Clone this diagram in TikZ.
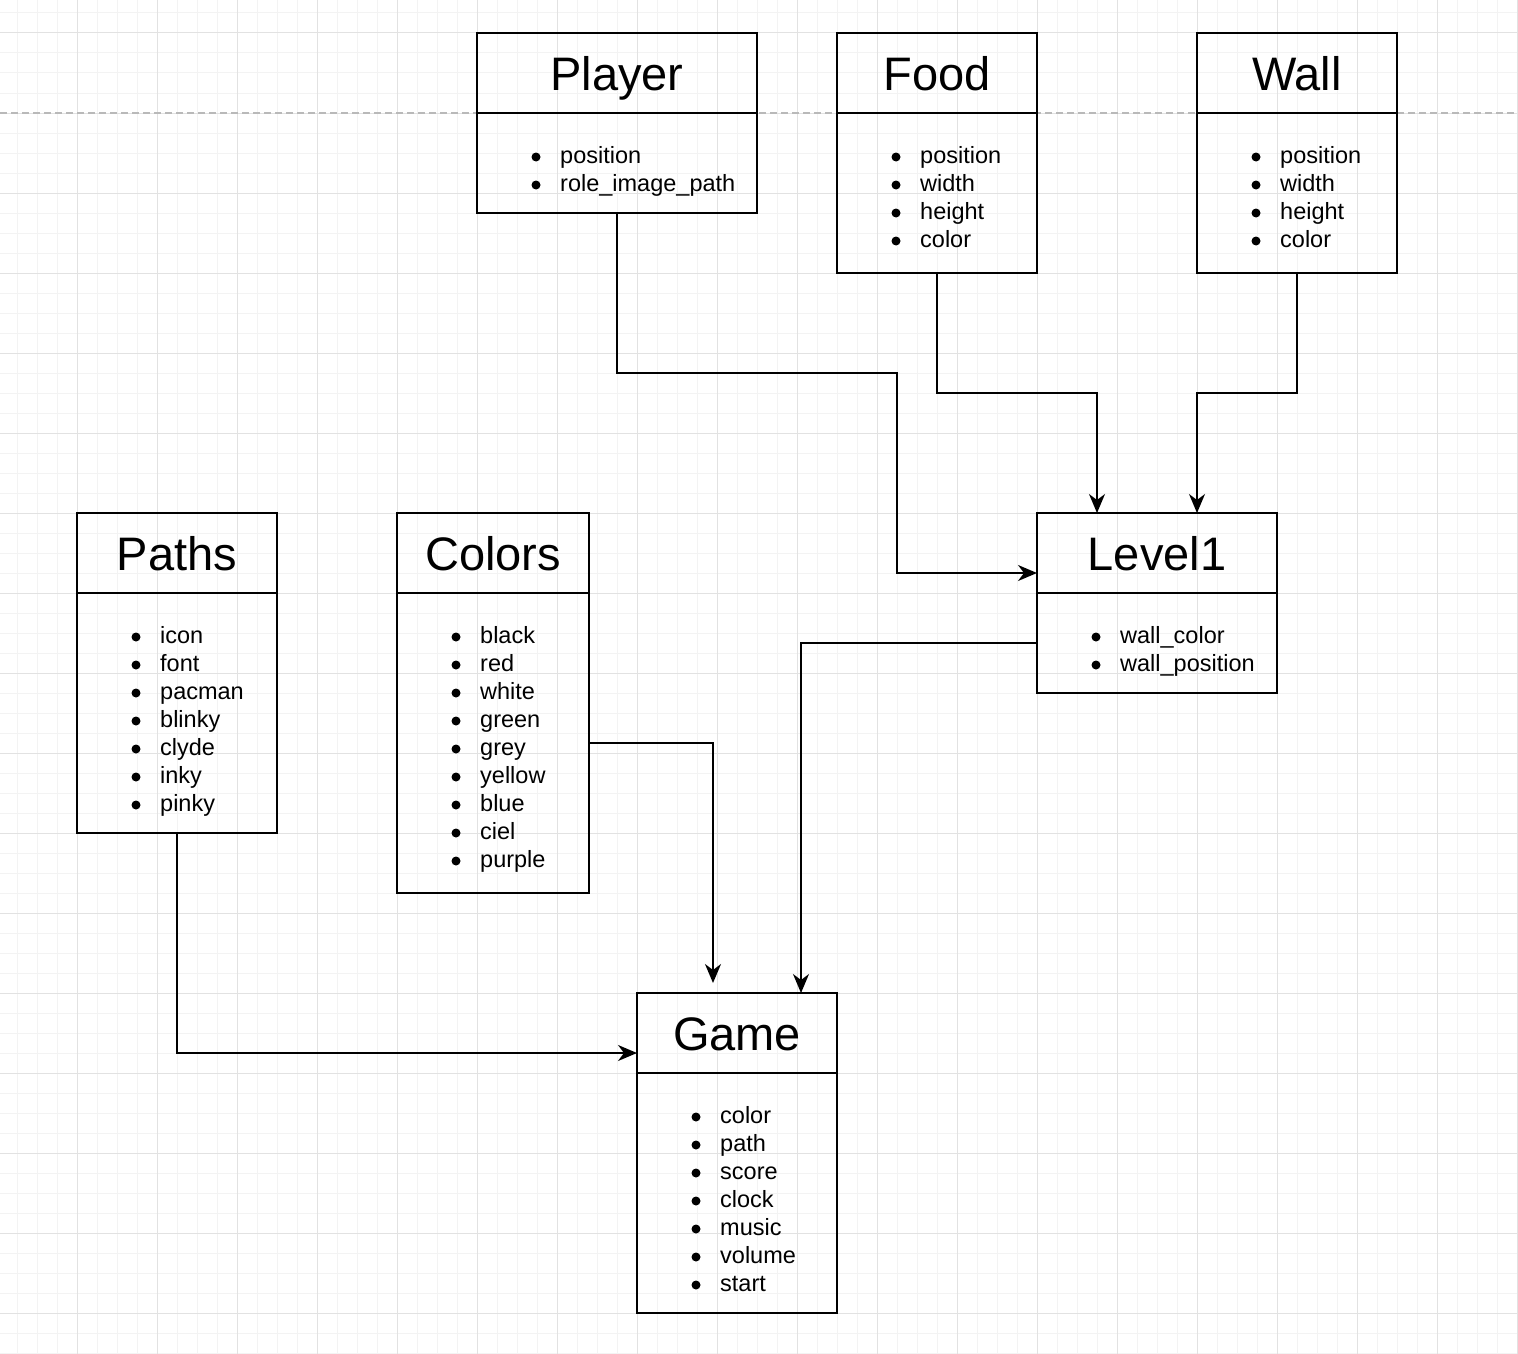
\documentclass[tikz,border=0pt]{standalone}
\usepackage{fontspec}
\setmainfont{Liberation Sans}
\usetikzlibrary{arrows.meta,positioning,calc}

\definecolor{gridminor}{RGB}{243,243,243}
\definecolor{gridmajor}{RGB}{226,226,226}
\definecolor{guide}{RGB}{185,185,185}

\tikzset{
	classhead/.style={draw, line width=2pt, outer sep=0pt, inner sep=0pt,
		minimum height=80pt, text height=34pt, text depth=0pt,
		font=\fontsize{47}{56}\selectfont},
	classbody/.style={draw, line width=2pt, outer sep=0pt, inner sep=0pt},
	member/.style={anchor=base west, inner sep=0pt, font=\fontsize{23.5}{28}\selectfont},
	link/.style={line width=1.8pt, -{Stealth[length=19pt,width=16pt,inset=6pt]}},
}

\begin{document}
\begin{tikzpicture}[x=1pt,y=-1pt]
		\useasboundingbox (0,0) rectangle (1518,1354);
		
		% background grid
		\foreach \x in {17,37,...,1517} \draw[gridminor,line width=1pt] (\x,0) -- (\x,1354);
		\foreach \y in {13,33,...,1353} \draw[gridminor,line width=1pt] (0,\y) -- (1518,\y);
		\foreach \x in {77,157,...,1517} \draw[gridmajor,line width=1pt] (\x,0) -- (\x,1354);
		\foreach \y in {33,113,...,1313} \draw[gridmajor,line width=1pt] (0,\y) -- (1518,\y);
		\draw[guide,line width=1.2pt,dash pattern=on 7pt off 4pt] (0,113) -- (1518,113);
		
		% classes
		\node[classhead,minimum width=280pt] (player) at (617,73) {Player};
		\node[classbody,minimum width=280pt,minimum height=100pt,below=0pt of player] (player-body) {};
		\foreach \t [count=\i] in {position,role\_image\_path} {
			\fill ($(player-body.north west)+(59,{44+28*(\i-1)})$) circle (4.5pt);
			\node[member] (player-\i) at ($(player-body.north west)+(83,{50+28*(\i-1)})$) {\t};
		}
		
		\node[classhead,minimum width=200pt] (food) at (937,73) {Food};
		\node[classbody,minimum width=200pt,minimum height=160pt,below=0pt of food] (food-body) {};
		\foreach \t [count=\i] in {position,width,height,color} {
			\fill ($(food-body.north west)+(59,{44+28*(\i-1)})$) circle (4.5pt);
			\node[member] (food-\i) at ($(food-body.north west)+(83,{50+28*(\i-1)})$) {\t};
		}
		
		\node[classhead,minimum width=200pt] (wall) at (1297,73) {Wall};
		\node[classbody,minimum width=200pt,minimum height=160pt,below=0pt of wall] (wall-body) {};
		\foreach \t [count=\i] in {position,width,height,color} {
			\fill ($(wall-body.north west)+(59,{44+28*(\i-1)})$) circle (4.5pt);
			\node[member] (wall-\i) at ($(wall-body.north west)+(83,{50+28*(\i-1)})$) {\t};
		}
		
		\node[classhead,minimum width=200pt] (paths) at (177,553) {Paths};
		\node[classbody,minimum width=200pt,minimum height=240pt,below=0pt of paths] (paths-body) {};
		\foreach \t [count=\i] in {icon,font,pacman,blinky,clyde,inky,pinky} {
			\fill ($(paths-body.north west)+(59,{44+28*(\i-1)})$) circle (4.5pt);
			\node[member] (paths-\i) at ($(paths-body.north west)+(83,{50+28*(\i-1)})$) {\t};
		}
		
		\node[classhead,minimum width=192pt] (colors) at (493,553) {Colors};
		\node[classbody,minimum width=192pt,minimum height=300pt,below=0pt of colors] (colors-body) {};
		\foreach \t [count=\i] in {black,red,white,green,grey,yellow,blue,ciel,purple} {
			\fill ($(colors-body.north west)+(59,{44+28*(\i-1)})$) circle (4.5pt);
			\node[member] (colors-\i) at ($(colors-body.north west)+(83,{50+28*(\i-1)})$) {\t};
		}
		
		\node[classhead,minimum width=240pt] (level1) at (1157,553) {Level1};
		\node[classbody,minimum width=240pt,minimum height=100pt,below=0pt of level1] (level1-body) {};
		\foreach \t [count=\i] in {wall\_color,wall\_position} {
			\fill ($(level1-body.north west)+(59,{44+28*(\i-1)})$) circle (4.5pt);
			\node[member] (level1-\i) at ($(level1-body.north west)+(83,{50+28*(\i-1)})$) {\t};
		}
		
		\node[classhead,minimum width=200pt] (game) at (737,1033) {Game};
		\node[classbody,minimum width=200pt,minimum height=240pt,below=0pt of game] (game-body) {};
		\foreach \t [count=\i] in {color,path,score,clock,music,volume,start} {
			\fill ($(game-body.north west)+(59,{44+28*(\i-1)})$) circle (4.5pt);
			\node[member] (game-\i) at ($(game-body.north west)+(83,{50+28*(\i-1)})$) {\t};
		}
		
		% connectors
		\coordinate (level1-in) at ($(level1.north west)+(0,60)$);
		\coordinate (game-in) at ($(game.north west)+(0,60)$);
		\coordinate (colors-end) at ($(game.north)+(-24,-10)$);
		
		\draw[link] (player-body.south) |- (897,373) |- (level1-in);
		\draw[link] (food-body.south) -- ++(0,120) -| ($(level1.north)+(-60,0)$);
		\draw[link] (wall-body.south) -- ++(0,120) -| ($(level1.north)+(40,0)$);
		\draw[link] (level1-body.west) -| ($(game.north)+(64,0)$);
		\draw[link] (colors-body.east) -| (colors-end);
		\draw[link] (paths-body.south) |- (game-in);
		
\end{tikzpicture}
\end{document}
